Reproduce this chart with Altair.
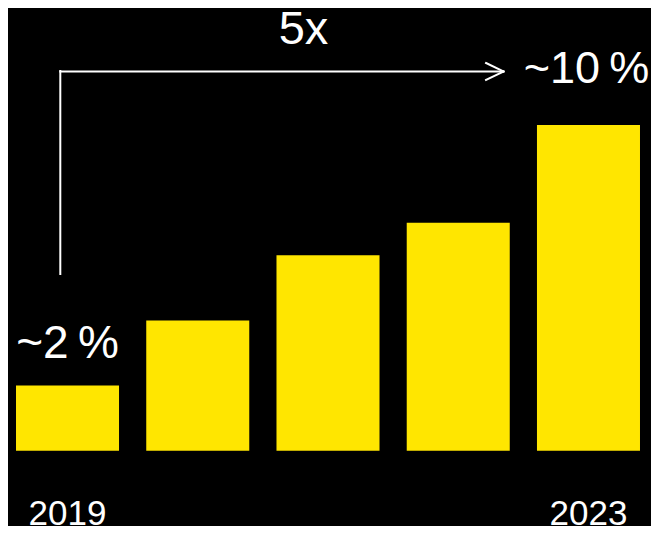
import altair as alt
import pandas as pd

years = ["2019", "2020", "2021", "2022", "2023"]
shares = [2, 4, 6, 7, 10]
share_labels = ["~2\u2009%", "", "", "", "~10\u2009%"]
year_labels = ["2019", "", "", "", "2023"]
growth_label = "5x"

YELLOW = "#FFE600"
FONT = "Liberation Sans"

df = pd.DataFrame({
    "year": years,
    "share": shares,
    "share_label": share_labels,
    "year_label": year_labels,
})

W, H = 643, 518

xscale = alt.Scale(domain=years, paddingInner=0.209, paddingOuter=0.073, align=0.421)
yscale = alt.Scale(domain=[-2.312, 13.59], nice=False, zero=False)

x = alt.X("year:N", scale=xscale, axis=None)
y = alt.Y("share:Q", scale=yscale, axis=None)

base = alt.Chart(df)

bars = base.mark_bar(color=YELLOW).encode(x=x, y=y, y2=alt.datum(0))

txt = dict(font=FONT, color="white", align="center", baseline="alphabetic")

first_lbl = base.transform_filter(alt.datum.year == "2019").mark_text(
    fontSize=46, dy=-28, **txt
).encode(x=x, y=y, text="share_label:N")

last_lbl = base.transform_filter(alt.datum.year == "2023").mark_text(
    fontSize=45, dy=-42, dx=-2, **txt
).encode(x=x, y=y, text="share_label:N")

growth = base.transform_filter(alt.datum.year == "2023").mark_text(
    fontSize=47, dy=-81, dx=-285, **txt
).encode(x=x, y=y, text=alt.value(growth_label))

year_txt = base.transform_filter(alt.datum.year_label != "").mark_text(
    fontSize=35, dy=74.5, **txt
).encode(x=x, y=alt.datum(0), text="year_label:N")

stroke = dict(color="white", strokeWidth=2, strokeCap="square")
one = base.transform_filter(alt.datum.year == "2019")
vline = one.mark_rule(**stroke).encode(
    x=alt.value(52.3), y=alt.value(63), y2=alt.value(266))
hline = one.mark_rule(**stroke).encode(
    x=alt.value(52.3), x2=alt.value(495.5), y=alt.value(63.5))
arm1 = one.mark_rule(**stroke).encode(
    x=alt.value(478), x2=alt.value(495.5), y=alt.value(55), y2=alt.value(63.5))
arm2 = one.mark_rule(**stroke).encode(
    x=alt.value(478), x2=alt.value(495.5), y=alt.value(72), y2=alt.value(63.5))

chart = alt.layer(
    bars, first_lbl, last_lbl, growth, year_txt, vline, hline, arm1, arm2
).properties(
    width=W, height=H,
    autosize=alt.AutoSizeParams(type="none"),
    padding=0,
    background="black",
).configure_view(stroke=None)

chart.save("out.html", embed_options={"renderer": "svg", "actions": False})
